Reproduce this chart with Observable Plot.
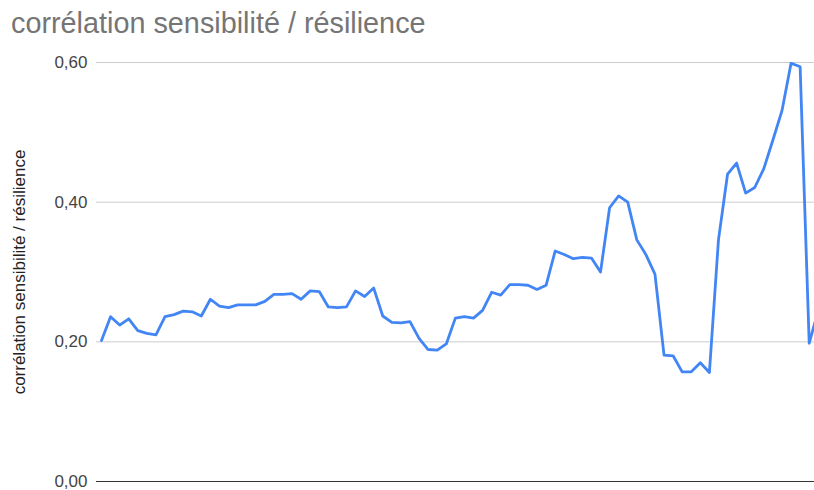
<!DOCTYPE html>
<html>
<head>
<meta charset="utf-8">
<script src="https://cdn.jsdelivr.net/npm/d3@7"></script>
<script src="https://cdn.jsdelivr.net/npm/@observablehq/plot@0.6"></script>
<style>
  html, body { margin: 0; padding: 0; background: #fff; }
  body { width: 814px; height: 490px; overflow: hidden; font-family: "Liberation Sans", Arial, sans-serif; }
  #title { height: 40px; box-sizing: border-box; padding: 7px 0 0 11px; font-size: 28.8px; line-height: 32px; color: #757575; white-space: nowrap; }
</style>
</head>
<body>
<div id="title"></div>
<div id="chart"></div>
<script>
const title = "corrélation sensibilité / résilience";
const yLabel = "corrélation sensibilité / résilience";
const yTicks = [0, 0.2, 0.4, 0.6];
const values = [
  0.202, 0.236, 0.224, 0.233, 0.216, 0.212, 0.210, 0.236, 0.239, 0.244,
  0.243, 0.237, 0.261, 0.251, 0.249, 0.253, 0.253, 0.253, 0.258, 0.268,
  0.268, 0.269, 0.261, 0.273, 0.272, 0.250, 0.249, 0.250, 0.273, 0.265,
  0.277, 0.237, 0.228, 0.227, 0.229, 0.205, 0.189, 0.188, 0.197, 0.234,
  0.236, 0.234, 0.245, 0.271, 0.267, 0.282, 0.282, 0.281, 0.275, 0.281,
  0.330, 0.325, 0.319, 0.321, 0.320, 0.300, 0.392, 0.409, 0.400, 0.346,
  0.325, 0.297, 0.181, 0.180, 0.157, 0.157, 0.170, 0.156, 0.346, 0.440,
  0.456, 0.413, 0.421, 0.448, 0.489, 0.531, 0.599, 0.594, 0.198, 0.245
];

document.getElementById("title").textContent = title;
const data = values.map((v, i) => ({i, v}));
const fmt = d => d.toFixed(2).replace(".", ",");

const chart = Plot.plot({
  width: 814,
  height: 450,
  marginLeft: 96,
  marginRight: 0,
  marginTop: 22,
  marginBottom: 9,
  style: {fontFamily: "'Liberation Sans', Arial, sans-serif", fontSize: "17px", color: "#444", background: "#fff"},
  x: {type: "linear", domain: [0, 78], range: [101, 808.7], axis: null},
  y: {domain: [0, 0.6], axis: null},
  marks: [
    Plot.ruleY(yTicks.filter(d => d > 0), {stroke: "#cccccc", strokeWidth: 1}),
    Plot.ruleY([0], {stroke: "#333333", strokeWidth: 1}),
    Plot.axisY(yTicks, {tickSize: 0, tickPadding: 9, tickFormat: fmt, label: null, fill: "#444", fontSize: 17}),
    Plot.text([yLabel], {frameAnchor: "left", textAnchor: "middle", dx: -77, rotate: -90, fill: "#222", fontSize: 17}),
    Plot.line(data, {x: "i", y: "v", stroke: "#4285F4", strokeWidth: 2.8, clip: true})
  ]
});
document.getElementById("chart").appendChild(chart);
</script>
</body>
</html>
